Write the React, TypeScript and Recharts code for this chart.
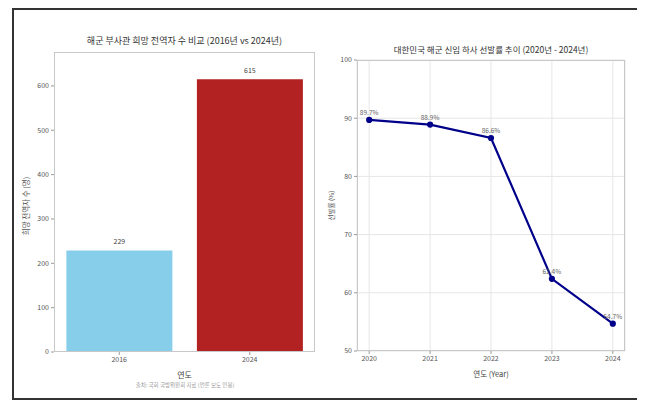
import React from 'react';
import { BarChart, Bar, LineChart, Line, XAxis, YAxis, CartesianGrid, LabelList, Cell } from 'recharts';

// 해군 부사관 희망 전역자 수
const barYears = ['2016', '2024'];
const dischargeCounts = [229, 615];
const barColors = ['#87CEEB', '#B22222'];
const barTicks = [0, 100, 200, 300, 400, 500, 600];

// 신임 하사 선발률
const rateYears = [2020, 2021, 2022, 2023, 2024];
const selectionRates = [89.7, 88.9, 86.6, 62.4, 54.7];
const rateTicks = [50, 60, 70, 80, 90, 100];

const barData = barYears.map((year, i) => ({ year, count: dischargeCounts[i] }));
const lineData = rateYears.map((year, i) => ({ year, rate: selectionRates[i] }));

const FONT = '"Noto Sans CJK KR", "Noto Sans", sans-serif';
const tickStyle = { fill: '#555', fontSize: 7, fontFamily: FONT };
const frame = { position: 'absolute' as const, border: '1px solid #c8c8c8', boxSizing: 'border-box' as const, pointerEvents: 'none' as const };

export default function App() {
  return (
    <div
      style={{
        position: 'relative',
        marginLeft: 4,
        width: 627,
        height: 392,
        border: '2px solid #333',
        boxSizing: 'border-box',
        fontFamily: FONT,
        background: '#fff',
      }}
    >
      <div style={{ position: 'absolute', left: 20, top: 25, width: 301, textAlign: 'center', fontSize: 9, lineHeight: '12px', color: '#333' }}>
        해군 부사관 희망 전역자 수 비교 (2016년 vs 2024년)
      </div>
      <div style={{ position: 'absolute', left: 0, top: 0 }}>
        <BarChart width={310} height={385} data={barData} margin={{ top: 42, right: 9, left: 0, bottom: 13 }} barCategoryGap="9.5%">
          <XAxis
            dataKey="year"
            tick={tickStyle}
            tickLine={{ stroke: '#999' }}
            tickSize={3}
            axisLine={false}
            height={30}
            label={{ value: '연도', position: 'insideBottom', offset: 4, style: { fill: '#444', fontSize: 8, fontFamily: FONT } }}
          />
          <YAxis
            domain={[0, 676.5]}
            ticks={barTicks}
            width={40}
            tick={tickStyle}
            tickLine={{ stroke: '#999' }}
            tickSize={3}
            axisLine={false}
            label={{ value: '희망 전역자 수 (명)', angle: -90, position: 'insideLeft', offset: 12, dy: 4, style: { textAnchor: 'middle', fill: '#555', fontSize: 7.5, fontFamily: FONT } }}
          />
          <Bar dataKey="count" isAnimationActive={false}>
            {barData.map((d, i) => (
              <Cell key={d.year} fill={barColors[i]} />
            ))}
            <LabelList dataKey="count" position="top" offset={6} style={{ fill: '#444', fontSize: 7, fontFamily: FONT }} />
          </Bar>
        </BarChart>
      </div>
      <div style={{ ...frame, left: 40, top: 42, width: 261, height: 300 }} />
      <div style={{ position: 'absolute', left: 21, top: 371, width: 300, textAlign: 'center', fontSize: 5.5, lineHeight: '8px', color: '#999' }}>
        출처: 국회 국방위원회 자료 (언론 보도 인용)
      </div>

      <div style={{ position: 'absolute', left: 327, top: 33, width: 300, textAlign: 'center', fontSize: 8.5, lineHeight: '12px', color: '#333' }}>
        대한민국 해군 신임 하사 선발률 추이 (2020년 - 2024년)
      </div>
      <div style={{ position: 'absolute', left: 306, top: 0 }}>
        <LineChart width={315} height={385} data={lineData} margin={{ top: 50, right: 10, left: 0, bottom: 14 }}>
          <CartesianGrid stroke="#e6e6e6" />
          <XAxis
            dataKey="year"
            type="number"
            domain={[2019.8, 2024.2]}
            ticks={rateYears}
            allowDataOverflow
            tick={tickStyle}
            tickLine={{ stroke: '#999' }}
            tickSize={3}
            axisLine={false}
            height={30}
            label={{ value: '연도 (Year)', position: 'insideBottom', offset: 4, style: { fill: '#444', fontSize: 7.5, fontFamily: FONT } }}
          />
          <YAxis
            domain={[50, 100]}
            ticks={rateTicks}
            width={37}
            tick={tickStyle}
            tickLine={{ stroke: '#999' }}
            tickSize={3}
            axisLine={false}
            label={{ value: '선발률 (%)', angle: -90, position: 'insideLeft', offset: 12, style: { textAnchor: 'middle', fill: '#555', fontSize: 6.5, fontFamily: FONT } }}
          />
          <Line
            type="linear"
            dataKey="rate"
            stroke="#00008B"
            strokeWidth={2.2}
            dot={{ r: 2, fill: '#00008B', stroke: '#00008B' }}
            isAnimationActive={false}
          >
            <LabelList dataKey="rate" position="top" offset={5} formatter={(v: number) => `${v}%`} style={{ fill: '#666', fontSize: 6.5, fontFamily: FONT }} />
          </Line>
        </LineChart>
      </div>
      <div style={{ ...frame, left: 343, top: 50, width: 268, height: 291 }} />
    </div>
  );
}
